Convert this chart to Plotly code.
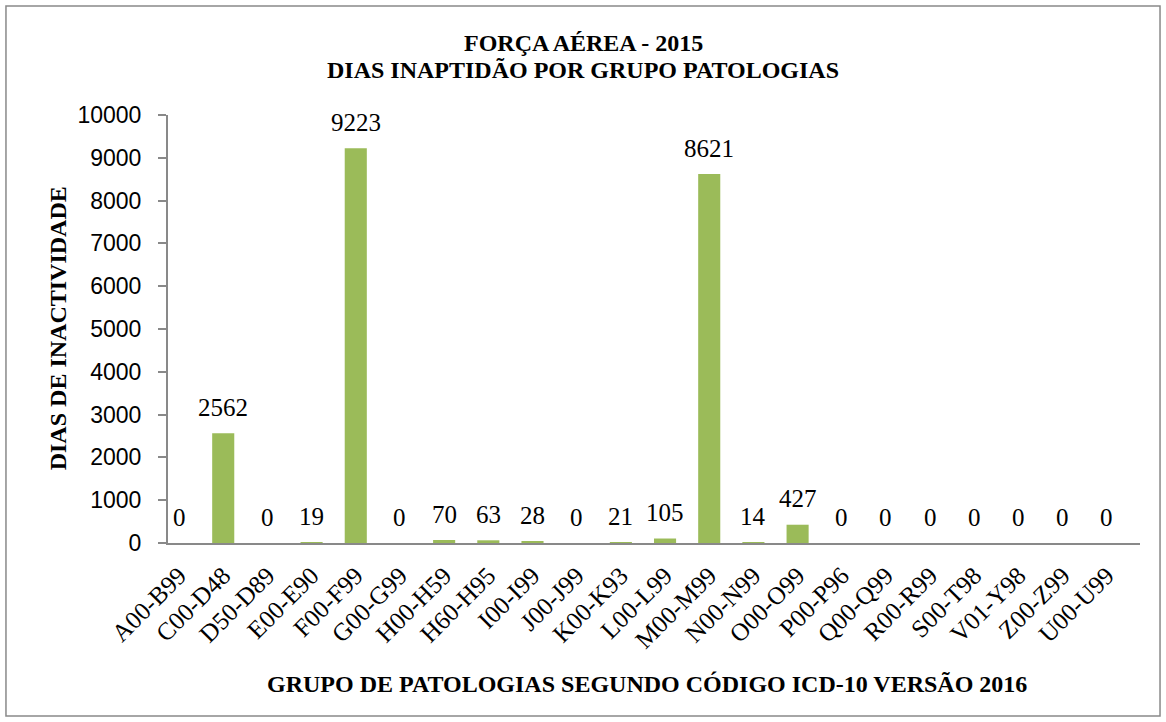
import plotly.graph_objects as go

categories = ["A00-B99", "C00-D48", "D50-D89", "E00-E90", "F00-F99", "G00-G99", "H00-H59",
              "H60-H95", "I00-I99", "J00-J99", "K00-K93", "L00-L99", "M00-M99", "N00-N99",
              "O00-O99", "P00-P96", "Q00-Q99", "R00-R99", "S00-T98", "V01-Y98", "Z00-Z99", "U00-U99"]
values = [0, 2562, 0, 19, 9223, 0, 70, 63, 28, 0, 21, 105, 8621, 14, 427, 0, 0, 0, 0, 0, 0, 0]
title_lines = ["FORÇA AÉREA - 2015", "DIAS INAPTIDÃO POR GRUPO PATOLOGIAS"]
x_title = "GRUPO DE PATOLOGIAS SEGUNDO CÓDIGO ICD-10 VERSÃO 2016"
y_title = "DIAS DE INACTIVIDADE"

serif = "Liberation Serif, Times New Roman, serif"
sans = "Liberation Sans, Arial, sans-serif"
grey = "#898989"

fig = go.Figure()
fig.add_trace(go.Bar(x=categories, y=values, marker=dict(color="#9BBB59", line=dict(width=0)),
                     width=0.5, hoverinfo="x+y"))

for c, v in zip(categories, values):
    fig.add_annotation(x=c, y=v, text=str(v), showarrow=False, yshift=26, yanchor="middle",
                       font=dict(family=serif, size=25, color="black"))

# titles
for ty, line in zip([1.168, 1.105], title_lines):
    fig.add_annotation(xref="paper", yref="paper", x=0.427, y=ty, text=f"<b>{line}</b>",
                       showarrow=False, xanchor="center", yanchor="middle",
                       font=dict(family=serif, size=24, color="black"))
fig.add_annotation(xref="paper", yref="paper", x=0.4928, y=-0.329, text=f"<b>{x_title}</b>",
                   showarrow=False, xanchor="center", yanchor="middle",
                   font=dict(family=serif, size=24, color="black"))
fig.add_annotation(xref="paper", yref="paper", x=-0.113, y=0.502, text=f"<b>{y_title}</b>",
                   showarrow=False, xanchor="center", yanchor="middle", textangle=-90,
                   font=dict(family=serif, size=24, color="black"))

fig.update_layout(
    width=1166, height=722,
    paper_bgcolor="white", plot_bgcolor="white",
    margin=dict(l=168, r=26, t=115, b=179),
    showlegend=False,
    xaxis=dict(range=[-0.25, len(categories) - 0.25], showline=True, linecolor=grey, linewidth=2,
               ticks="", tickangle=-45, automargin=False, ticklabelstandoff=6,
               tickfont=dict(family=serif, size=25, color="black")),
    yaxis=dict(range=[0, 10000], dtick=1000, tickformat="d", showline=True, linecolor=grey,
               linewidth=2, ticks="outside", ticklen=8, tickwidth=2, tickcolor=grey,
               showgrid=False, zeroline=False, automargin=False, ticklabelstandoff=12,
               tickfont=dict(family=sans, size=23, color="black")),
    shapes=[dict(type="rect", xref="paper", yref="paper", x0=-0.1667, x1=1.0206, y0=-0.404, y1=1.2547,
                 line=dict(color=grey, width=1.5))],
)

fig.write_html("out.html", config={"displayModeBar": False},
               post_script="document.body.style.margin='0';")
